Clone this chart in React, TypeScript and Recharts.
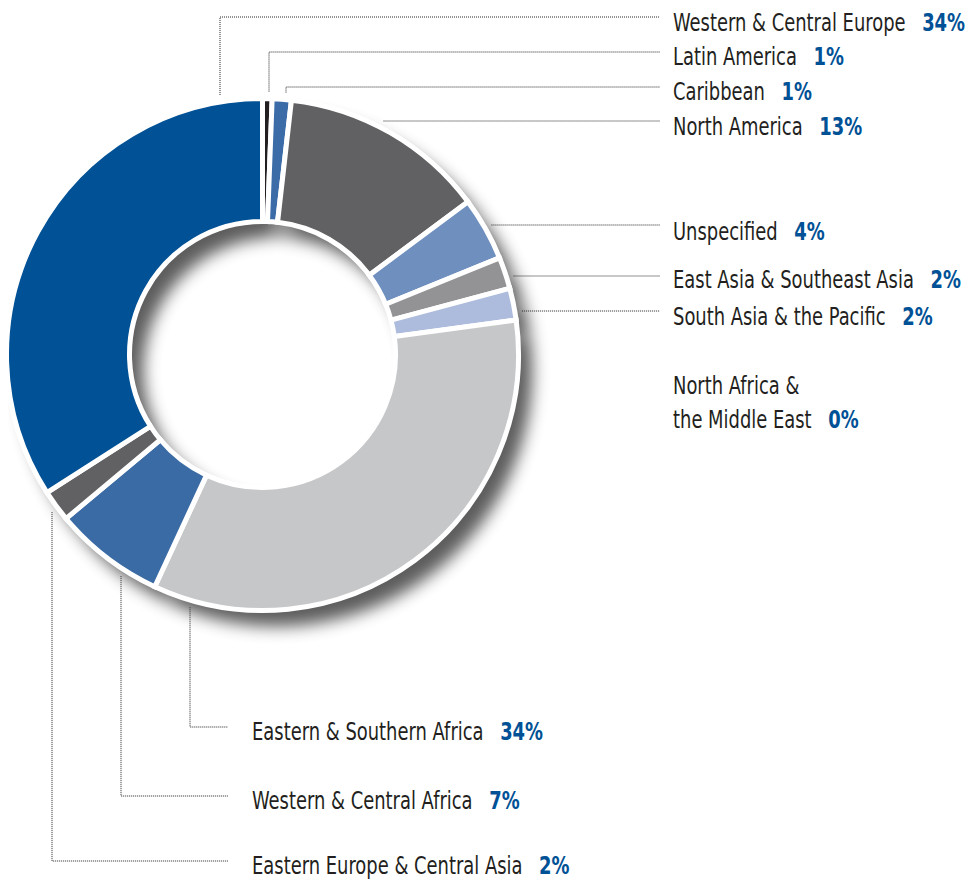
import { PieChart, Pie, Cell } from "recharts";

const regions = [
  "Latin America",
  "Caribbean",
  "North America",
  "Unspecified",
  "East Asia & Southeast Asia",
  "South Asia & the Pacific",
  "North Africa &\nthe Middle East",
  "Eastern & Southern Africa",
  "Western & Central Africa",
  "Eastern Europe & Central Asia",
  "Western & Central Europe",
];
// slice sizes (clockwise from 12 o'clock)
const shares = [0.6, 1.2, 13, 4, 2, 2, 0, 34, 7, 2, 34];
const shareLabels = ["1%", "1%", "13%", "4%", "2%", "2%", "0%", "34%", "7%", "2%", "34%"];

const colors = [
  "#231f20", "#3b6ca8", "#616163", "#6f8fbf", "#939396", "#adbbdc",
  "#c6c7c9", "#c6c7c9", "#3b6ba5", "#616163", "#005195",
];

// where each callout goes (chart pixels)
const callouts: { kind: string; lx?: number; ly?: number; tx: number; ty: number }[] = [
  { kind: "top", lx: 261, ly: 44, tx: 665, ty: 57 },
  { kind: "top", lx: 278, ly: 79, tx: 665, ty: 92 },
  { kind: "right", ly: 113, tx: 665, ty: 127 },
  { kind: "right", ly: 217, tx: 665, ty: 232 },
  { kind: "right", ly: 268, tx: 665, ty: 280 },
  { kind: "right", ly: 303, tx: 665, ty: 317 },
  { kind: "none", tx: 665, ty: 386 },
  { kind: "bottom", lx: 182, ly: 719, tx: 244, ty: 732 },
  { kind: "bottom", lx: 113, ly: 788, tx: 244, ty: 801 },
  { kind: "bottom", lx: 44, ly: 853, tx: 244, ty: 866 },
  { kind: "top", lx: 212, ly: 9, tx: 665, ty: 23 },
];

const data = regions.map((name, i) => ({ name, value: shares[i] }));

const FONT = "'DejaVu Sans Condensed', 'DejaVu Sans', sans-serif";

const renderCallout = (p: any) => {
  const { cx, cy, outerRadius, index } = p;
  const c = callouts[index];
  const R = outerRadius + 7;
  let pts = "";
  if (c.kind === "top") {
    const y0 = cy - Math.sqrt(R * R - (c.lx! - cx) ** 2);
    pts = `${c.lx},${y0} ${c.lx},${c.ly} 652,${c.ly}`;
  } else if (c.kind === "right") {
    const x0 = cx + Math.sqrt(R * R - (c.ly! - cy) ** 2);
    pts = `${x0},${c.ly} 652,${c.ly}`;
  } else if (c.kind === "bottom") {
    const y0 = cy + Math.sqrt(R * R - (c.lx! - cx) ** 2);
    pts = `${c.lx},${y0} ${c.lx},${c.ly} 220,${c.ly}`;
  }
  const lines = regions[index].split("\n");
  return (
    <g key={`callout-${index}`}>
      {pts && (
        <polyline points={pts} fill="none" stroke="#222" strokeWidth={1} strokeDasharray="1 1" />
      )}
      <text
        x={0}
        y={0}
        transform={`translate(${c.tx},${c.ty}) scale(0.83,1)`}
        fontSize={24}
        fill="#231f20"
        fontFamily={FONT}
        textAnchor="start"
      >
        {lines.map((ln, k) => (
          <tspan key={k} x={0} dy={k === 0 ? 0 : 34}>
            {ln}
          </tspan>
        ))}
        <tspan dx={20} fontWeight={700} fill="#005195">
          {shareLabels[index]}
        </tspan>
      </text>
    </g>
  );
};

export default function App() {
  return (
    <div style={{ width: 959, height: 873 }}>
      <svg width={0} height={0} style={{ position: "absolute" }}>
        <defs>
          <filter id="ringShadow" x="-20%" y="-20%" width="140%" height="140%">
            <feGaussianBlur in="SourceAlpha" stdDeviation={6} />
            <feOffset dx={7} dy={8} />
            <feComponentTransfer>
              <feFuncA type="linear" slope={0.8} />
            </feComponentTransfer>
          </filter>
        </defs>
      </svg>
      <style>{`.ring-shadow { filter: url(#ringShadow); }`}</style>
      <PieChart width={959} height={873} margin={{ top: 0, right: 0, bottom: 0, left: 0 }}>
        <Pie
          className="ring-shadow"
          data={data}
          dataKey="value"
          cx={254.5}
          cy={346.5}
          innerRadius={133}
          outerRadius={256}
          startAngle={90}
          endAngle={-270}
          fill="#000"
          stroke="none"
          label={false}
          labelLine={false}
          isAnimationActive={false}
        />
        <Pie
          data={data}
          dataKey="value"
          cx={254.5}
          cy={346.5}
          innerRadius={133}
          outerRadius={256}
          startAngle={90}
          endAngle={-270}
          stroke="#fff"
          strokeWidth={5}
          label={renderCallout}
          labelLine={false}
          isAnimationActive={false}
        >
          {data.map((d, i) => (
            <Cell key={d.name} fill={colors[i]} />
          ))}
        </Pie>
      </PieChart>
    </div>
  );
}
